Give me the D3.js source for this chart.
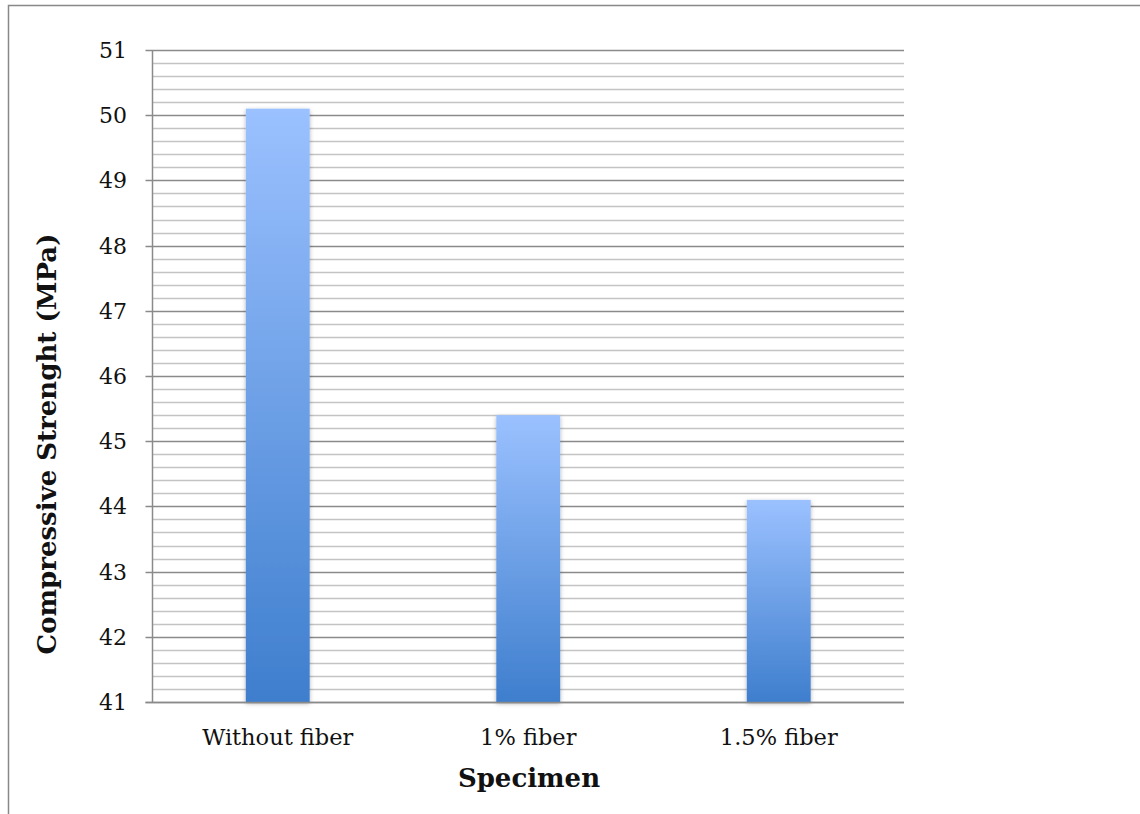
<!DOCTYPE html>
<html><head><meta charset="utf-8">
<script src="https://cdn.jsdelivr.net/npm/d3@7"></script>
<style>body{margin:0;background:#fff}svg{display:block}</style>
</head><body>
<script>
const categories = ["Without fiber", "1% fiber", "1.5% fiber"];
const values = [50.1, 45.4, 44.1];
const yMin = 41, yMax = 51;
const majorTicks = [41, 42, 43, 44, 45, 46, 47, 48, 49, 50, 51];
const xTitle = "Specimen";
const yTitle = "Compressive Strenght (MPa)";

const W = 1140, H = 814;
const m = {left: 152.5, right: 904, top: 50, bottom: 702};
const svg = d3.select("body").append("svg").attr("width", W).attr("height", H);
const defs = svg.append("defs");
const g = defs.append("linearGradient").attr("id", "barGrad").attr("x1", 0).attr("y1", 0).attr("x2", 0).attr("y2", 1);
g.append("stop").attr("offset", "0%").attr("stop-color", "#9bc1ff");
g.append("stop").attr("offset", "100%").attr("stop-color", "#3e7ecd");
const f = defs.append("filter").attr("id", "shadow").attr("x", "-20%").attr("y", "-5%").attr("width", "140%").attr("height", "110%");
f.append("feDropShadow").attr("dx", 0).attr("dy", 1.5).attr("stdDeviation", 2).attr("flood-color", "#000").attr("flood-opacity", 0.3);

// outer border
svg.append("path").attr("d", `M8.5,${H} L8.5,5.5 L${W},5.5`).attr("fill", "none").attr("stroke", "#888").attr("stroke-width", 1.5);

const y = d3.scaleLinear().domain([yMin, yMax]).range([m.bottom, m.top]);
const x = d3.scaleBand().domain(categories).range([m.left, m.right]).paddingInner(0.745).paddingOuter(0.3725);

// minor gridlines
const minor = d3.range(yMin * 5, yMax * 5 + 1).map(v => v / 5).filter(v => Math.abs(v - Math.round(v)) > 1e-6);
svg.append("g").selectAll("line").data(minor).join("line")
  .attr("x1", m.left).attr("x2", m.right)
  .attr("y1", d => Math.round(y(d)) + 0.5).attr("y2", d => Math.round(y(d)) + 0.5)
  .attr("stroke", "#c4c4c4").attr("stroke-width", 1.5);
// major gridlines
svg.append("g").selectAll("line").data(majorTicks).join("line")
  .attr("x1", m.left - 7).attr("x2", m.right)
  .attr("y1", d => Math.round(y(d)) + 0.5).attr("y2", d => Math.round(y(d)) + 0.5)
  .attr("stroke", "#8a8a8a").attr("stroke-width", 1.5);

// bars
svg.append("g").selectAll("rect").data(values).join("rect")
  .attr("x", (d, i) => x(categories[i]))
  .attr("width", x.bandwidth())
  .attr("y", d => y(d))
  .attr("height", d => y(yMin) - y(d))
  .attr("fill", "url(#barGrad)")
  .attr("filter", "url(#shadow)");

// axis lines
svg.append("line").attr("x1", m.left).attr("x2", m.left).attr("y1", m.top).attr("y2", m.bottom).attr("stroke", "#8a8a8a").attr("stroke-width", 1.5);
svg.append("line").attr("x1", m.left - 7).attr("x2", m.right).attr("y1", m.bottom + 0.5).attr("y2", m.bottom + 0.5).attr("stroke", "#8a8a8a").attr("stroke-width", 1.5);

const font = "'DejaVu Serif', 'Liberation Serif', serif";
// y tick labels
svg.append("g").selectAll("text").data(majorTicks).join("text")
  .attr("x", 127).attr("y", d => y(d) + 8)
  .attr("text-anchor", "end").attr("font-family", font).attr("font-size", 22)
  .attr("fill", "#111").text(d => d);
// x labels
svg.append("g").selectAll("text").data(categories).join("text")
  .attr("x", d => x(d) + x.bandwidth() / 2).attr("y", 745)
  .attr("text-anchor", "middle").attr("font-family", font).attr("font-size", 22.5)
  .attr("fill", "#111").text(d => d);
// titles
svg.append("text").attr("x", 529).attr("y", 787).attr("text-anchor", "middle")
  .attr("font-family", font).attr("font-weight", "bold").attr("font-size", 26).attr("fill", "#111").text(xTitle);
svg.append("text").attr("transform", "translate(56,444) rotate(-90)").attr("text-anchor", "middle")
  .attr("font-family", font).attr("font-weight", "bold").attr("font-size", 26).attr("fill", "#111").text(yTitle);
</script>
</body></html>
